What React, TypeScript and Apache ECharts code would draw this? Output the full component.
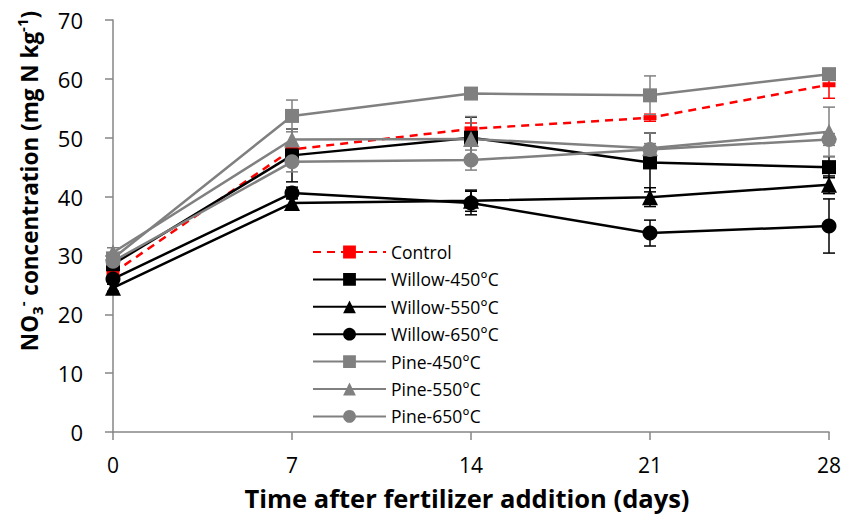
import React, { useEffect, useRef } from "react";
import * as echarts from "echarts";

// Sampling days after fertilizer addition
const days = [0, 7, 14, 21, 28];

// Mean NO3- concentration (mg N kg-1)
const control = [27.0, 48.0, 51.5, 53.4, 59.0];
const willow450 = [28.5, 47.0, 50.0, 45.8, 45.0];
const willow550 = [24.5, 38.9, 39.3, 39.9, 42.0];
const willow650 = [26.0, 40.6, 38.9, 33.8, 35.0];
const pine450 = [29.5, 53.7, 57.5, 57.2, 60.8];
const pine550 = [30.5, 49.7, 49.8, 48.2, 51.0];
const pine650 = [29.0, 45.9, 46.2, 48.0, 49.7];

// Standard errors
const controlErr = [0.6, 0.8, 1.0, 0.6, 2.3];
const willow450Err = [0.8, 4.5, 3.5, 5.0, 1.8];
const willow550Err = [0.6, 0.8, 1.8, 1.6, 1.5];
const willow650Err = [0.6, 1.0, 2.0, 2.2, 4.6];
const pine450Err = [0.6, 2.7, 0.8, 3.3, 0.8];
const pine550Err = [0.8, 1.8, 3.8, 2.6, 4.2];
const pine650Err = [0.6, 1.7, 1.7, 1.0, 1.0];

const yTicks = [0, 10, 20, 30, 40, 50, 60, 70];

const FONT = "'Open Sans', 'Noto Sans', sans-serif";
const BLACK = "#000000";
const GREY = "#808080";
const RED = "#ff0000";
const AXIS = "#868686";

type Spec = {
  name: string;
  values: number[];
  errors: number[];
  color: string;
  symbol: string;
  symbolSize: number | number[];
  dashed?: boolean;
};

const specs: Spec[] = [
  { name: "Control", values: control, errors: controlErr, color: RED, symbol: "rect", symbolSize: [13, 5], dashed: true },
  { name: "Willow-450°C", values: willow450, errors: willow450Err, color: BLACK, symbol: "rect", symbolSize: 14 },
  { name: "Willow-550°C", values: willow550, errors: willow550Err, color: BLACK, symbol: "triangle", symbolSize: 16 },
  { name: "Willow-650°C", values: willow650, errors: willow650Err, color: BLACK, symbol: "circle", symbolSize: 15 },
  { name: "Pine-450°C", values: pine450, errors: pine450Err, color: GREY, symbol: "rect", symbolSize: 14 },
  { name: "Pine-550°C", values: pine550, errors: pine550Err, color: GREY, symbol: "triangle", symbolSize: 16 },
  { name: "Pine-650°C", values: pine650, errors: pine650Err, color: GREY, symbol: "circle", symbolSize: 15 },
];

function errorSeries(s: Spec) {
  return {
    type: "custom",
    name: s.name + " error",
    silent: true,
    z: 1,
    data: days.map((d, i) => [d, s.values[i], s.errors[i]]),
    renderItem: (_params: any, api: any) => {
      const x = api.value(0);
      const v = api.value(1);
      const e = api.value(2);
      const top = api.coord([x, v + e]);
      const bot = api.coord([x, v - e]);
      const cap = 6;
      const style = { stroke: s.color, lineWidth: 1.5 };
      return {
        type: "group",
        children: [
          { type: "line", shape: { x1: top[0], y1: top[1], x2: bot[0], y2: bot[1] }, style },
          { type: "line", shape: { x1: top[0] - cap, y1: top[1], x2: top[0] + cap, y2: top[1] }, style },
          { type: "line", shape: { x1: bot[0] - cap, y1: bot[1], x2: bot[0] + cap, y2: bot[1] }, style },
        ],
      };
    },
  };
}

function lineSeries(s: Spec) {
  return {
    type: "line",
    name: s.name,
    z: 2,
    data: days.map((d, i) => [d, s.values[i]]),
    symbol: s.symbol,
    symbolSize: s.symbolSize,
    showSymbol: true,
    itemStyle: { color: s.color, borderWidth: 0 },
    lineStyle: { color: s.color, width: 2.5, type: s.dashed ? [8, 6] : "solid" },
  };
}

export default function App() {
  const ref = useRef<HTMLDivElement>(null);

  useEffect(() => {
    if (!ref.current) return;
    const chart = echarts.init(ref.current, undefined, { renderer: "svg" });
    chart.setOption({
      animation: false,
      backgroundColor: "#ffffff",
      textStyle: { fontFamily: FONT },
      grid: { left: 113, right: 31, top: 20, bottom: 85, containLabel: false },
      legend: {
        orient: "vertical",
        left: 307,
        top: 238,
        itemWidth: 73,
        itemHeight: 16,
        itemGap: 9.4,
        data: specs.map((s) => s.name),
        textStyle: { fontFamily: FONT, fontSize: 17.5, color: "#000" },
      },
      xAxis: {
        type: "value",
        min: 0,
        max: 28,
        interval: 7,
        splitLine: { show: false },
        axisLine: { lineStyle: { color: AXIS, width: 1.5 } },
        axisTick: { show: true, length: 8, lineStyle: { color: AXIS, width: 1.5 } },
        axisLabel: { fontFamily: FONT, fontSize: 21, lineHeight: 22, color: "#000", margin: 22 },
      },
      yAxis: {
        type: "value",
        min: 0,
        max: 70,
        interval: 10,
        splitLine: { show: false },
        axisLine: { show: true, lineStyle: { color: AXIS, width: 1.5 } },
        axisTick: { show: true, length: 8, lineStyle: { color: AXIS, width: 1.5 } },
        axisLabel: {
          fontFamily: FONT,
          fontSize: 22,
          color: "#000",
          margin: 30,
          formatter: (v: number) => (yTicks.includes(v) ? String(v) : ""),
        },
      },
      graphic: [
        {
          type: "text",
          x: 29,
          y: 181,
          rotation: Math.PI / 2,
          style: {
            text: "{a|NO}{sub|3}{sup|-}{a| concentration (mg N kg}{sup|-1}{a|)}",
            align: "center",
            verticalAlign: "middle",
            fill: "#000",
            rich: {
              a: { fontFamily: FONT, fontSize: 22.5, fontWeight: "bold", lineHeight: 30, fill: "#000" },
              sub: { fontFamily: FONT, fontSize: 15, fontWeight: "bold", verticalAlign: "bottom", fill: "#000" },
              sup: { fontFamily: FONT, fontSize: 15, fontWeight: "bold", verticalAlign: "top", fill: "#000" },
            },
          },
        },
        {
          type: "text",
          x: 467,
          y: 498,
          style: {
            text: "Time after fertilizer addition (days)",
            align: "center",
            verticalAlign: "middle",
            fontFamily: FONT,
            fontSize: 25.5,
            lineHeight: 25,
            fontWeight: "bold",
            fill: "#000",
          },
        },
      ],
      series: [...specs.map(errorSeries), ...specs.map(lineSeries)],
    });
    return () => chart.dispose();
  }, []);

  return (
    <div
      ref={ref}
      style={{ position: "fixed", left: 0, top: 0, width: 860, height: 517 }}
    />
  );
}
